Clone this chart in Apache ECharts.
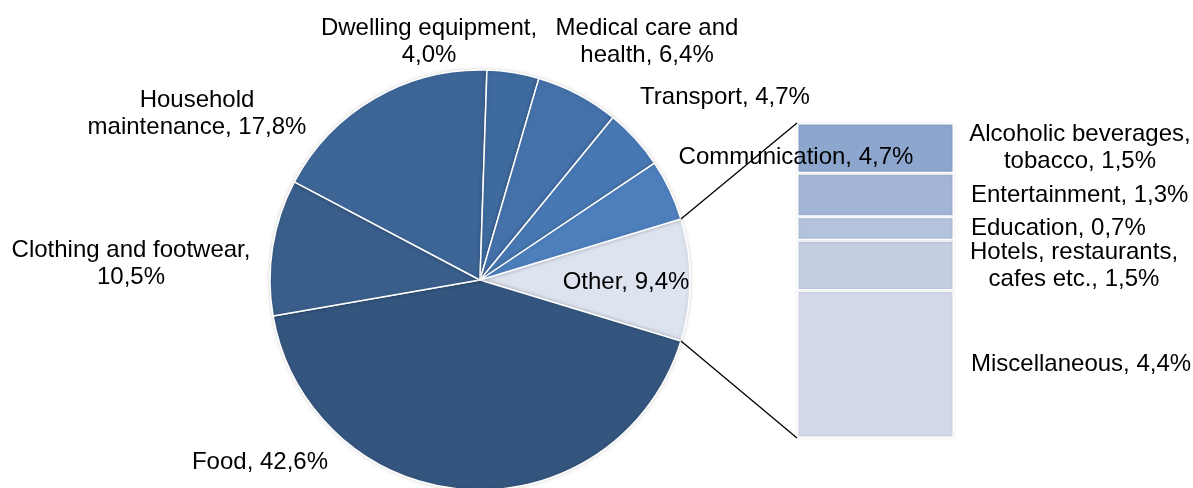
<!DOCTYPE html>
<html>
<head>
<meta charset="utf-8">
<script src="https://cdn.jsdelivr.net/npm/echarts@6/dist/echarts.min.js"></script>
<style>
  html, body { margin: 0; padding: 0; background: #fff; }
  #chart { width: 1193px; height: 488px; }
</style>
</head>
<body>
<div id="chart"></div>
<script>
// 饼图数据（顺时针，从 Other 开始）
const pieNames = ['Other', 'Food', 'Clothing and footwear', 'Household maintenance',
  'Dwelling equipment', 'Medical care and health', 'Transport', 'Communication']
const pieValues = [9.4, 42.6, 10.5, 17.8, 4.0, 6.4, 4.7, 4.7]
const pieLabels = ['Other, 9,4%', 'Food, 42,6%', 'Clothing and footwear,\n10,5%',
  'Household\nmaintenance, 17,8%', 'Dwelling equipment,\n4,0%', 'Medical care and\nhealth, 6,4%',
  'Transport, 4,7%', 'Communication, 4,7%']
const pieColors = ['#dde3ef', '#34557e', '#3a5e8b', '#3d6697', '#3f6a9e', '#4571aa', '#4878b3', '#4d7fbd']

// 右侧堆叠条（从下往上）
const barNames = ['Miscellaneous', 'Hotels, restaurants, cafes etc.', 'Education', 'Entertainment', 'Alcoholic beverages, tobacco']
const barValues = [4.4, 1.5, 0.7, 1.3, 1.5]
const barLabels = ['Miscellaneous, 4,4%', 'Hotels, restaurants,\ncafes etc., 1,5%', 'Education, 0,7%',
  'Entertainment, 1,3%', 'Alcoholic beverages,\ntobacco, 1,5%']
const barColors = ['#d2d9e9', '#c4cee2', '#b3c3de', '#a2b5d6', '#8ca6ce']

// 标签位置（饼图外部标签）
const labelPos = [[626, 282], [260, 462], [131, 264], [197, 114], [429, 42], [647, 42], [725, 97], [796, 157]]
// 两行标签的水平居中位置
const barLabelCenter = [null, 1074, null, null, 1080]

const cx = 480, cy = 280, r = 210
const grid = { left: 797, top: 123, width: 157, height: 315 }
const labelGap = 17

const total = pieValues.reduce((a, b) => a + b, 0)
const otherAngle = pieValues[0] / total * 360
const startAngle = otherAngle / 2

const font = { fontFamily: 'Liberation Sans, Arial, sans-serif', fontSize: 24, color: '#000', lineHeight: 27 }

let chartDom = document.getElementById('chart')
let myChart = echarts.init(chartDom)

// 连接线：从 Other 扇区两端到条形图的上下角
const rad = startAngle * Math.PI / 180
const p1 = [cx + r * Math.cos(rad), cy - r * Math.sin(rad)]
const p2 = [cx + r * Math.cos(rad), cy + r * Math.sin(rad)]
const labelLeft = grid.left + grid.width + labelGap

let options = {
  animation: false,
  grid: { left: grid.left, top: grid.top, width: grid.width, height: grid.height },
  xAxis: { type: 'category', data: ['Other'], show: false },
  yAxis: { type: 'value', min: 0, max: pieValues[0], show: false },
  graphic: [
    { type: 'line', shape: { x1: p1[0], y1: p1[1], x2: grid.left, y2: grid.top }, style: { stroke: '#000', lineWidth: 1.3 }, z: 10 },
    { type: 'line', shape: { x1: p2[0], y1: p2[1], x2: grid.left, y2: grid.top + grid.height }, style: { stroke: '#000', lineWidth: 1.3 }, z: 10 }
  ],
  series: [
    {
      type: 'pie',
      center: [cx, cy],
      radius: r,
      startAngle: startAngle,
      clockwise: true,
      avoidLabelOverlap: false,
      itemStyle: { borderColor: '#fff', borderWidth: 1.5, shadowBlur: 4, shadowColor: 'rgba(0,0,0,0.15)' },
      label: Object.assign({ show: true, position: 'outside', align: 'center' }, font),
      labelLine: { show: false },
      labelLayout: function (params) {
        const p = labelPos[params.dataIndex]
        return { x: p[0], y: p[1], align: 'center', verticalAlign: 'middle', hideOverlap: false }
      },
      emphasis: { disabled: true },
      data: pieValues.map((v, i) => ({
        name: pieNames[i],
        value: v,
        itemStyle: { color: pieColors[i] },
        label: { formatter: pieLabels[i] }
      })),
      z: 5
    }
  ].concat(barValues.map((v, i) => ({
    type: 'bar',
    name: barNames[i],
    stack: 'other',
    barWidth: '100%',
    data: [v],
    itemStyle: { color: barColors[i], borderColor: '#fff', borderWidth: 1.5, shadowBlur: 3, shadowColor: 'rgba(0,0,0,0.12)' },
    label: Object.assign({
      show: true,
      position: 'right',
      distance: labelGap,
      verticalAlign: 'middle',
      formatter: barLabels[i]
    }, font, barLabelCenter[i] ? { align: 'center', offset: [barLabelCenter[i] - labelLeft, 0] } : {}),
    emphasis: { disabled: true }
  })))
}
myChart.setOption(options)
</script>
</body>
</html>
